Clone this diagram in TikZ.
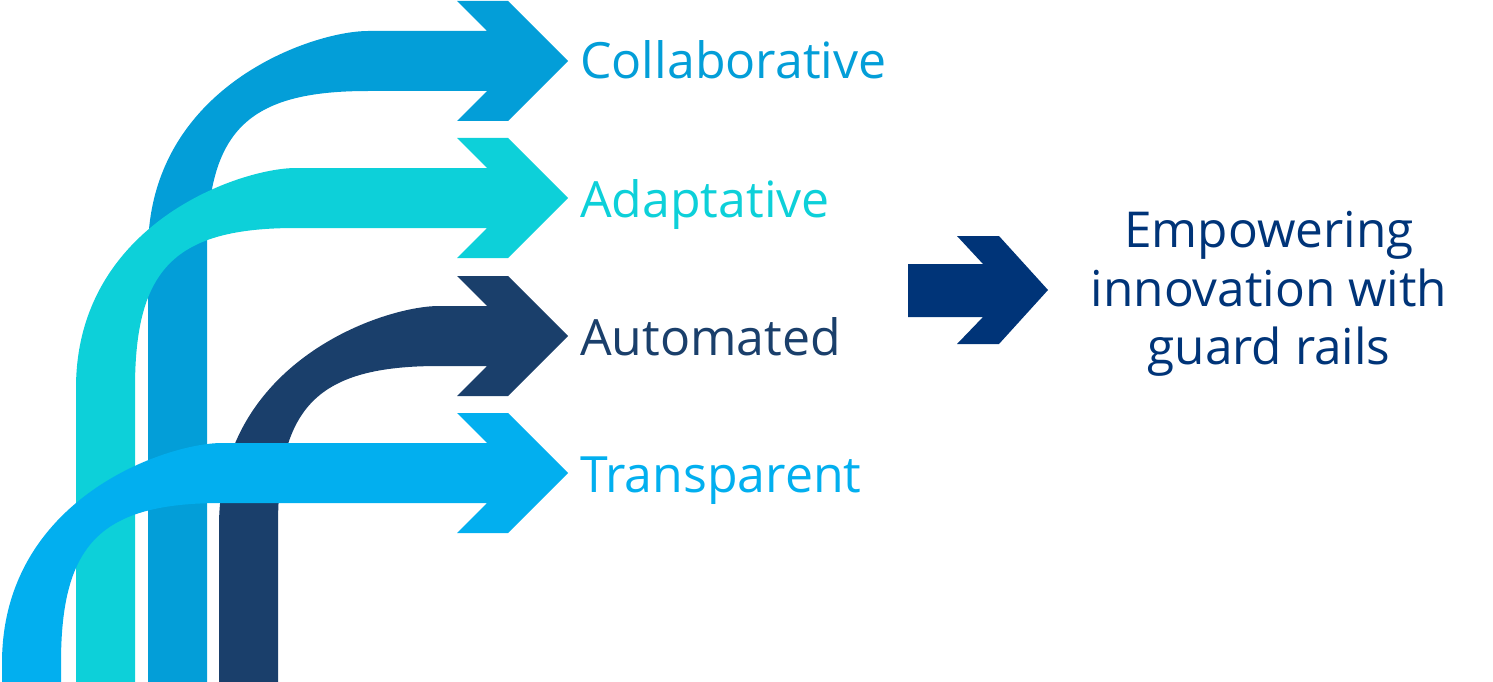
\documentclass[tikz,border=0pt]{standalone}
\usepackage{fontspec}
\setmainfont{Open Sans}
\definecolor{cCol}{HTML}{039ED8}
\definecolor{cAda}{HTML}{0DD0D9}
\definecolor{cAut}{HTML}{1A3F6B}
\definecolor{cTra}{HTML}{02AFEF}
\definecolor{cEmp}{HTML}{003478}
% #1 colour, #2 stem left x, #3 band top y (pixel units, y downwards)
\newcommand\bentarrow[3]{%
  \fill[#1] (#2,682) -- (#2,#3+220)
    .. controls (#2,#3+55) and (#2+165,#3) .. (#2+220,#3)
    -- (487,#3) -- (457,#3-30) -- (508,#3-30) -- (568,#3+30)
    -- (508,#3+90) -- (457,#3+90) -- (487,#3+60) -- (#2+220,#3+60)
    .. controls (#2+99,#3+60) and (#2+59,#3+100) .. (#2+59,#3+220)
    -- (#2+59,682) -- cycle;}
\tikzset{
  lbl/.style={font=\fontsize{50}{60}\selectfont, inner sep=0pt, anchor=base west},
  goal/.style={font=\fontsize{49.5}{58.5}\selectfont, inner sep=0pt, align=center, text=cEmp}
}
\begin{document}
\begin{tikzpicture}[x=1pt,y=-1pt]
\useasboundingbox (0,0) rectangle (1493,682);
\bentarrow{cCol}{148}{31}
\bentarrow{cAda}{76}{168}
\bentarrow{cAut}{219}{306}
\bentarrow{cTra}{2}{443}
\node[lbl, text=cCol] (col) at (580,79) {Collaborative};
\node[lbl, text=cAda] (ada) at (580,217) {Adaptative};
\node[lbl, text=cAut] (aut) at (580,355) {Automated};
\node[lbl, text=cTra] (tra) at (580,492) {Transparent};
\fill[cEmp] (908,264) -- (983,264) -- (957,236) -- (999,236) -- (1048,290)
  -- (999,344) -- (957,344) -- (983,317) -- (908,317) -- cycle;
\node[goal, anchor=center] (emp) at (1269,294) {Empowering\\innovation with\\guard rails};
\end{tikzpicture}
\end{document}
